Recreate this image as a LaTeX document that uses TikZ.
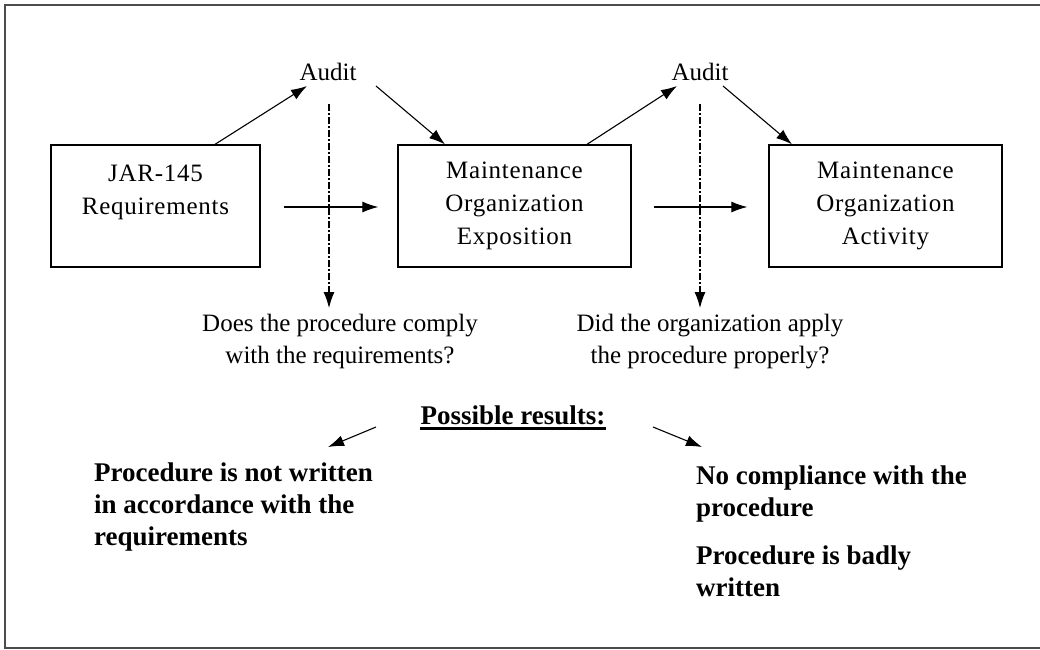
\documentclass[tikz,border=0pt]{standalone}
\usepackage{fontspec}
\setmainfont{Liberation Serif}
\usetikzlibrary{arrows.meta,calc}
\begin{document}
\begin{tikzpicture}[x=1pt,y=-1pt,
  conn/.style={line width=1.1pt,-{Latex[length=16pt,width=11pt]}},
  dashdotconn/.style={conn,dash pattern=on 7pt off 2pt on 2pt off 2pt},
  boxnode/.style={draw,line width=1.3pt,minimum height=122pt,inner sep=0pt,align=center,
    font=\fontsize{25}{33}\selectfont\addfontfeature{LetterSpace=3}},
  plain/.style={inner sep=0pt,align=center,font=\fontsize{25}{32}\selectfont},
  result/.style={inner sep=0pt,align=left,font=\fontsize{27}{32}\selectfont\bfseries},
  frame/.style={draw=black!70,line width=2pt}]
\useasboundingbox (0,0) rectangle (1040,649);
\draw[frame] (1045,5) -- (5,5) -- (5,648) -- (1045,648);

\node[boxnode,minimum width=209pt] (j) at (155.5,206) {JAR-145\\Requirements\\~};
\node[boxnode,minimum width=233pt] (e) at (514.5,206) {Maintenance\\Organization\\Exposition};
\node[boxnode,minimum width=233pt] (m) at (885.5,206) {Maintenance\\Organization\\Activity};

\node[plain] (a1) at (328,72) {Audit};
\node[plain] (a2) at (700,72) {Audit};

\node[plain] (q1) at (340,341.5) {Does the procedure comply\\with the requirements?};
\node[plain] (q2) at (710,341.5) {Did the organization apply\\the procedure properly?};

\node[inner sep=0pt,font=\fontsize{27}{32}\selectfont\bfseries] (pr) at (513,415) {Possible results:};
\draw[line width=2.5pt] ($(pr.base west)+(0,4.5)$) -- ($(pr.base east)+(0,4.5)$);

\node[result,anchor=west] (r1) at (94,507) {Procedure is not written\\in accordance with the\\requirements};
\node[result,anchor=west] (r2) at (696,531) {No compliance with the\\procedure\\[16pt]Procedure is badly\\written};

% audit arrows
\draw[conn] ([xshift=59.5pt]j.north) -- ($(a1)+(-21,14)$);
\draw[conn] ($(a1)+(48,14)$) -- ([xshift=-69.5pt]e.north);
\draw[conn] ([xshift=72.5pt]e.north) -- ($(a2)+(-23,14)$);
\draw[conn] ($(a2)+(23,14)$) -- ([xshift=-93.5pt]m.north);

% horizontal arrows
\draw[conn] ($(j.east)+(23,1)$) -- ($(e.west)+(-19,1)$);
\draw[conn] ($(e.east)+(22,1)$) -- ($(m.west)+(-21,1)$);

% dash-dot arrows
\draw[dashdotconn] ($(a1)+(1,32)$) -- ($(a1)+(1,236)$);
\draw[dashdotconn] ($(a2)+(0,32)$) -- ($(a2)+(0,236)$);

% result arrows
\draw[conn] ($(pr)+(-137,12)$) -- ($(pr)+(-185,32)$);
\draw[conn] ($(pr)+(140,12)$) -- ($(pr)+(189,32)$);
\end{tikzpicture}
\end{document}
